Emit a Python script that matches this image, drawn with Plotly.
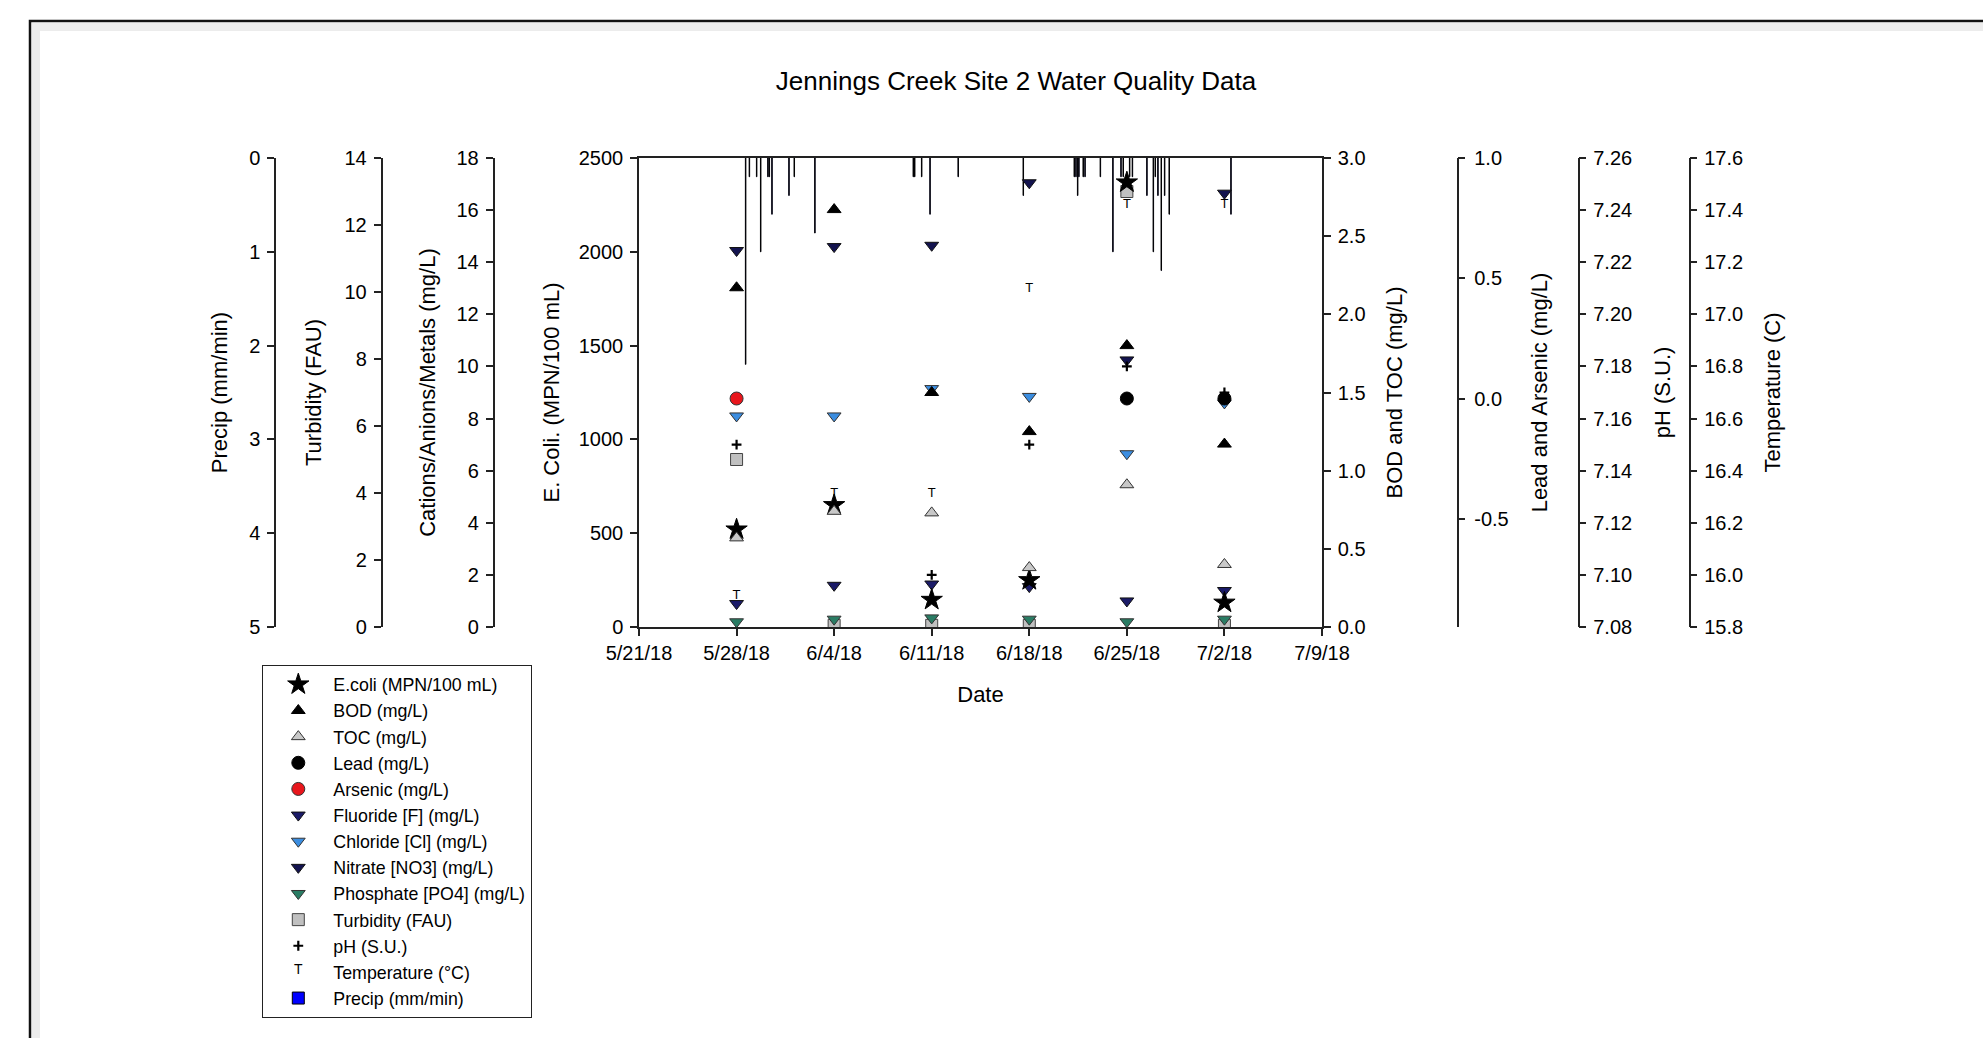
import plotly.graph_objects as go

# ---------------- data ----------------
dates = ["2018-05-28", "2018-06-04", "2018-06-11", "2018-06-18", "2018-06-25", "2018-07-02"]
ecoli = [520, 650, 145, 250, 2370, 130]
bod = [2.17, 2.67, 1.50, 1.25, 1.80, 1.17]
toc = [0.57, 0.74, 0.73, 0.38, 0.91, 0.40]
lead = [None, None, None, None, 0.0, 0.0]
arsenic = [0.0, None, None, None, None, None]
fluoride = [0.9, 1.6, 1.65, 1.55, 1.0, 1.4]
chloride = [8.1, 8.1, 9.15, 8.85, 6.65, 8.6]
nitrate = [14.45, 14.6, 14.65, 17.05, 10.25, 16.65]
phosphate = [0.2, 0.3, 0.35, 0.3, 0.2, 0.3]
turbidity = [5.0, 0.05, 0.05, 0.05, 13.0, 0.05]
ph = [7.150, None, 7.100, 7.150, 7.180, 7.170]
temperature = [15.92, 16.31, 16.31, 17.10, 17.42, 17.42]

precip_time = [
    "2018-05-28 15:36", "2018-05-28 22:05", "2018-05-29 10:34", "2018-05-29 17:31",
    "2018-05-30 06:00", "2018-05-30 08:24", "2018-05-30 12:58", "2018-05-31 18:14",
    "2018-06-01 03:22", "2018-06-02 14:53", "2018-06-09 16:19", "2018-06-09 18:43",
    "2018-06-10 06:43", "2018-06-10 21:07", "2018-06-12 21:36", "2018-06-17 13:41",
    "2018-06-21 05:31", "2018-06-21 08:24", "2018-06-21 11:17", "2018-06-21 13:26",
    "2018-06-21 20:53", "2018-06-22 00:00", "2018-06-23 02:24", "2018-06-24 00:00",
    "2018-06-24 13:55", "2018-06-24 17:46", "2018-06-25 04:48", "2018-06-25 09:36",
    "2018-06-26 10:34", "2018-06-26 21:36", "2018-06-27 00:58", "2018-06-27 05:31",
    "2018-06-27 11:17", "2018-06-27 17:02", "2018-06-28 00:58", "2018-07-02 11:17",
]
precip = [2.2, 0.2, 0.2, 1.0, 0.2, 0.2, 0.6, 0.4, 0.2, 0.8,
          0.2, 0.2, 0.2, 0.6, 0.2, 0.4, 0.2, 0.2, 0.4, 0.2,
          0.2, 0.2, 0.2, 1.0, 0.2, 0.2, 0.2, 0.2, 0.4, 1.0,
          0.2, 0.4, 1.2, 0.4, 0.6, 0.6]

x_ticks_start = "2018-05-21"
x_range = ["2018-05-21", "2018-07-09"]
lead_tickvals = [-0.5, 0.0, 0.5, 1.0]
lead_ticktext = ["-0.5", "0.0", "0.5", "1.0"]

# ---------------- layout geometry (pixels) ----------------
W, H = 1983, 1038
FONT = "Arial, 'Liberation Sans', sans-serif"
def px(x):
    return x / W
def py(y):
    return 1 - y / H

plot_l, plot_r, plot_t, plot_b = 639, 1322, 158, 627
ydom = [py(plot_b), py(plot_t)]
TICK = 20
TITLE = 22

fig = go.Figure()

# precip first so it is drawn beneath the markers
fig.add_trace(go.Bar(x=precip_time, y=precip, yaxis="y", name="Precip (mm/min)",
                     width=3.0e6, marker=dict(color="#0000ff", line=dict(color="#000000", width=1.0)),
                     legendrank=13))

def sc(y, name, yaxis, symbol, size, color, lc="#222", lw=1, rank=1):
    return go.Scatter(x=dates, y=y, name=name, yaxis=yaxis, mode="markers",
                      marker=dict(symbol=symbol, size=size, color=color,
                                  line=dict(color=lc, width=lw)),
                      legendrank=rank)

fig.add_trace(sc(turbidity, "Turbidity (FAU)", "y2", "square", 12, "#c0c0c0", "#444", 1, 10))
fig.add_trace(sc(fluoride, "Fluoride [F] (mg/L)", "y3", "triangle-down", 12, "#1b1b68", "#111", 1, 6))
fig.add_trace(sc(chloride, "Chloride [Cl] (mg/L)", "y3", "triangle-down", 12, "#3b8de0", "#333", 1, 7))
fig.add_trace(sc(nitrate, "Nitrate [NO3] (mg/L)", "y3", "triangle-down", 12, "#13134f", "#111", 1, 8))
fig.add_trace(sc(phosphate, "Phosphate [PO4] (mg/L)", "y3", "triangle-down", 12, "#2a7c64", "#333", 1, 9))
fig.add_trace(sc(ecoli, "E.coli (MPN/100 mL)", "y4", "star", 16, "#000", "#000", 1, 1))
fig.add_trace(sc(bod, "BOD (mg/L)", "y5", "triangle-up", 12, "#000", "#000", 1, 2))
fig.add_trace(sc(toc, "TOC (mg/L)", "y5", "triangle-up", 12, "#c8c8c8", "#333", 1, 3))
fig.add_trace(sc(lead, "Lead (mg/L)", "y6", "circle", 13, "#000", "#000", 1, 4))
fig.add_trace(sc(arsenic, "Arsenic (mg/L)", "y6", "circle", 13, "#e8161c", "#333", 1, 5))
fig.add_trace(go.Scatter(x=dates, y=ph, name="pH (S.U.)", yaxis="y7", mode="markers",
                         marker=dict(symbol="cross-thin", size=7, color="#000",
                                     line=dict(color="#000", width=2.2)),
                         legendrank=11))
fig.add_trace(go.Scatter(x=dates, y=temperature, name="Temperature (°C)", yaxis="y8",
                         mode="text", text="T", textposition="middle center",
                         textfont=dict(size=13, color="#000", family=FONT),
                         legendrank=12))

axline = dict(showline=True, linecolor="#222", linewidth=1.5, ticks="outside",
              ticklen=7, tickwidth=1.5, tickcolor="#222", showgrid=False,
              zeroline=False, tickfont=dict(size=TICK, color="#000", family=FONT),
              domain=ydom, fixedrange=True, automargin=False, ticklabelstandoff=3)

def yax(title, rng, side, standoff, **kw):
    d = dict(axline)
    d.update(title=dict(text=title, font=dict(size=TITLE, color="#000", family=FONT), standoff=standoff),
             range=rng, side=side, autorange=False)
    d.update(kw)
    return d

fig.update_layout(
    template="none",
    width=W, height=H, margin=dict(l=0, r=0, t=0, b=0, pad=0, autoexpand=False),
    paper_bgcolor="white", plot_bgcolor="white",
    font=dict(family=FONT, color="#000"),
    title=dict(text="Jennings Creek Site 2 Water Quality Data", x=px(1016), y=py(81),
               xref="paper", yref="paper",
               xanchor="center", yanchor="middle", font=dict(size=26, color="#000", family=FONT)),
    xaxis=dict(type="date", range=x_range, domain=[px(plot_l), px(plot_r)], anchor="y4",
               tick0=x_ticks_start, dtick=7 * 86400000, tickformat="%-m/%-d/%y",
               showline=True, mirror=True, linecolor="#222", linewidth=1.5,
               ticks="outside", ticklen=7, tickwidth=1.5, tickcolor="#222",
               showgrid=False, zeroline=False, fixedrange=True, automargin=False,
               tickfont=dict(size=TICK, color="#000", family=FONT),
               title=dict(text="Date", font=dict(size=TITLE, color="#000", family=FONT), standoff=24)),
    yaxis=yax("Precip (mm/min)", [5, 0], "left", 14, anchor="free", position=px(275), dtick=1),
    yaxis2=yax("Turbidity (FAU)", [0, 14], "left", 16, anchor="free", position=px(381.5),
               overlaying="y", dtick=2),
    yaxis3=yax("Cations/Anions/Metals (mg/L)", [0, 18], "left", 14, anchor="free",
               position=px(493.5), overlaying="y", dtick=2),
    yaxis4=yax("E. Coli. (MPN/100 mL)", [0, 2500], "left", 13, anchor="x",
               overlaying="y", dtick=500),
    yaxis5=yax("BOD and TOC (mg/L)", [0, 3], "right", 22, anchor="x", overlaying="y",
               dtick=0.5, tickformat=".1f"),
    yaxis6=yax("Lead and Arsenic (mg/L)", [-0.95, 1.0], "right", 23, anchor="free",
               position=px(1457.5), overlaying="y", tickvals=lead_tickvals,
               ticktext=lead_ticktext, ticklabelstandoff=5),
    yaxis7=yax("pH (S.U.)", [7.08, 7.26], "right", 22, anchor="free", position=px(1578.5),
               overlaying="y", dtick=0.02, tick0=7.08, tickformat=".2f"),
    yaxis8=yax("Temperature (C)", [15.8, 17.6], "right", 21, anchor="free", position=px(1689.5),
               overlaying="y", dtick=0.2, tick0=15.8, tickformat=".1f"),
    legend=dict(x=px(262), y=py(665), xanchor="left", yanchor="top",
                bgcolor="white", bordercolor="#222", borderwidth=1.3,
                font=dict(size=17.8, color="#000", family=FONT), itemwidth=60,
                traceorder="normal"),
    showlegend=True,
    barmode="overlay",
    shapes=[
        dict(type="rect", xref="paper", yref="paper", x0=px(36), x1=1.2,
             y0=-0.2, y1=py(27), line=dict(color="#ececec", width=8), layer="below"),
        dict(type="rect", xref="paper", yref="paper", x0=px(30), x1=1.2,
             y0=-0.2, y1=py(21), line=dict(color="#111", width=2.5), layer="below"),
    ],
)

post = ("document.body.style.margin='0';document.body.style.overflow='hidden';"
        "document.querySelectorAll('.legend .pointtext text').forEach(function(t){"
        "t.textContent='T';t.style.fontSize='14px';});")
fig.write_html("out.html", post_script=post, config={"displayModeBar": False})
